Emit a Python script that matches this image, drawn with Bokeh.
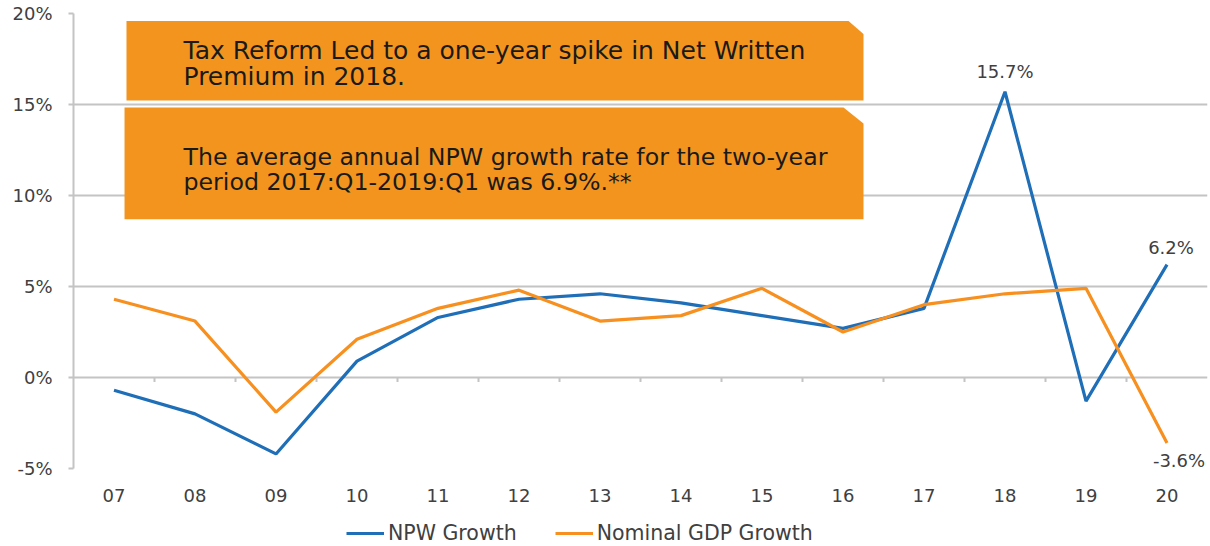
from bokeh.plotting import figure
from bokeh.layouts import column
from bokeh.models import (FactorRange, Range1d, PrintfTickFormatter, Legend, LegendItem,
                          PolyAnnotation, Label, FixedTicker)
from bokeh.embed import file_html
from bokeh.resources import INLINE

years = ["07", "08", "09", "10", "11", "12", "13", "14", "15", "16", "17", "18", "19", "20"]
npw_growth = [-0.7, -2.0, -4.2, 0.9, 3.3, 4.3, 4.6, 4.1, 3.4, 2.7, 3.8, 15.7, -1.3, 6.2]
gdp_growth = [4.3, 3.1, -1.9, 2.1, 3.8, 4.8, 3.1, 3.4, 4.9, 2.5, 4.0, 4.6, 4.9, -3.6]
y_ticks = [-5, 0, 5, 10, 15, 20]
series_names = ["NPW Growth", "Nominal GDP Growth"]

BLUE = "#1F6EB8"
ORANGE = "#F7901E"
BOX = "#F3941F"
GREY_TXT = "#404040"
GRID = "#C4C4C4"
FONT = "DejaVu Sans"

p = figure(width=1210, height=510, x_range=FactorRange(*years, range_padding=0),
           y_range=Range1d(-5, 20), output_backend="svg", toolbar_location=None,
           min_border_left=73, min_border_right=3, min_border_top=13, min_border_bottom=42)
p.outline_line_color = None
p.background_fill_color = "white"

# grid & axes
p.xgrid.grid_line_color = None
p.ygrid.grid_line_color = GRID
p.ygrid.grid_line_width = 2
p.yaxis.ticker = FixedTicker(ticks=y_ticks)
p.yaxis.formatter = PrintfTickFormatter(format="%d%%")
p.yaxis.axis_line_color = GRID
p.yaxis.axis_line_width = 2
p.yaxis.major_tick_line_color = GRID
p.yaxis.major_tick_line_width = 2
p.yaxis.major_tick_out = 5
p.yaxis.major_tick_in = 0
p.yaxis.minor_tick_line_color = None
p.yaxis.major_label_standoff = 16
p.yaxis.major_label_text_font = FONT
p.yaxis.major_label_text_font_size = "18px"
p.yaxis.major_label_text_color = GREY_TXT

p.xaxis.axis_line_color = None
p.xaxis.major_tick_line_color = None
p.xaxis.minor_tick_line_color = None
p.xaxis.major_label_standoff = 14
p.xaxis.major_label_text_font = FONT
p.xaxis.major_label_text_font_size = "18px"
p.xaxis.major_label_text_color = GREY_TXT

# small category separator ticks on the zero line
sep = list(range(1, len(years)))
p.segment(x0=sep, y0=[0] * len(sep), x1=sep, y1=[-0.25] * len(sep), line_color=GRID, line_width=2)

# annotation boxes
p.add_layout(PolyAnnotation(xs=[0.654, 9.568, 9.753, 9.753, 0.654], ys=[19.59, 19.59, 18.87, 15.22, 15.22],
                            fill_color=BOX, fill_alpha=1, line_color=None))
p.add_layout(PolyAnnotation(xs=[0.630, 9.506, 9.753, 9.753, 0.630], ys=[14.83, 14.83, 13.95, 8.70, 8.70],
                            fill_color=BOX, fill_alpha=1, line_color=None))

box_lines = [
    ("Tax Reform Led to a one-year spike in Net Written", 17.98, "25px"),
    ("Premium in 2018.", 16.55, "25px"),
    ("The average annual NPW growth rate for the two-year", 12.12, "23.7px"),
    ("period 2017:Q1-2019:Q1 was 6.9%.**", 10.76, "23.7px"),
]
for txt, yy, fs in box_lines:
    p.add_layout(Label(x=1.358, y=yy, text=txt, text_font=FONT, text_font_size=fs,
                       text_color="#1A1A1A", text_baseline="middle", text_align="left"))

p.line(years, npw_growth, line_color=BLUE, line_width=3.2)
p.line(years, gdp_growth, line_color=ORANGE, line_width=3.2)

# data labels
lab_style = dict(text_font=FONT, text_font_size="18px", text_color=GREY_TXT, text_align="center",
                 text_baseline="middle")
p.add_layout(Label(x=years.index("18") + 0.5, y=npw_growth[11], text="15.7%", y_offset=20, **lab_style))
p.add_layout(Label(x=years.index("20") + 0.5, y=npw_growth[13], text="6.2%", x_offset=4, y_offset=17, **lab_style))
p.add_layout(Label(x=years.index("20") + 0.5, y=gdp_growth[13], text="-3.6%", x_offset=12, y_offset=-17, **lab_style))

# legend strip below the chart (series drawn off-range so only the legend shows)
lg = figure(width=1210, height=36, x_range=Range1d(100, 101), y_range=Range1d(100, 101),
            output_backend="svg", toolbar_location=None, x_axis_type=None, y_axis_type=None,
            min_border_left=0, min_border_right=0, min_border_top=0, min_border_bottom=0)
lg.outline_line_color = None
lg.xgrid.grid_line_color = None
lg.ygrid.grid_line_color = None
idx = list(range(len(years)))
r_npw = lg.line(x=idx, y=npw_growth, line_color=BLUE, line_width=3.2)
r_gdp = lg.line(x=idx, y=gdp_growth, line_color=ORANGE, line_width=3.2)
legend = Legend(items=[LegendItem(label=series_names[0], renderers=[r_npw]),
                       LegendItem(label=series_names[1], renderers=[r_gdp])],
                orientation="horizontal", location=(273, 1), border_line_color=None,
                background_fill_alpha=0, label_text_font=FONT, label_text_font_size="20.5px",
                label_text_color=GREY_TXT, glyph_width=38, label_standoff=4, spacing=38,
                margin=0, padding=3)
lg.add_layout(legend)

layout = column(p, lg, spacing=0)
open("out.html", "w").write(file_html(layout, INLINE))
